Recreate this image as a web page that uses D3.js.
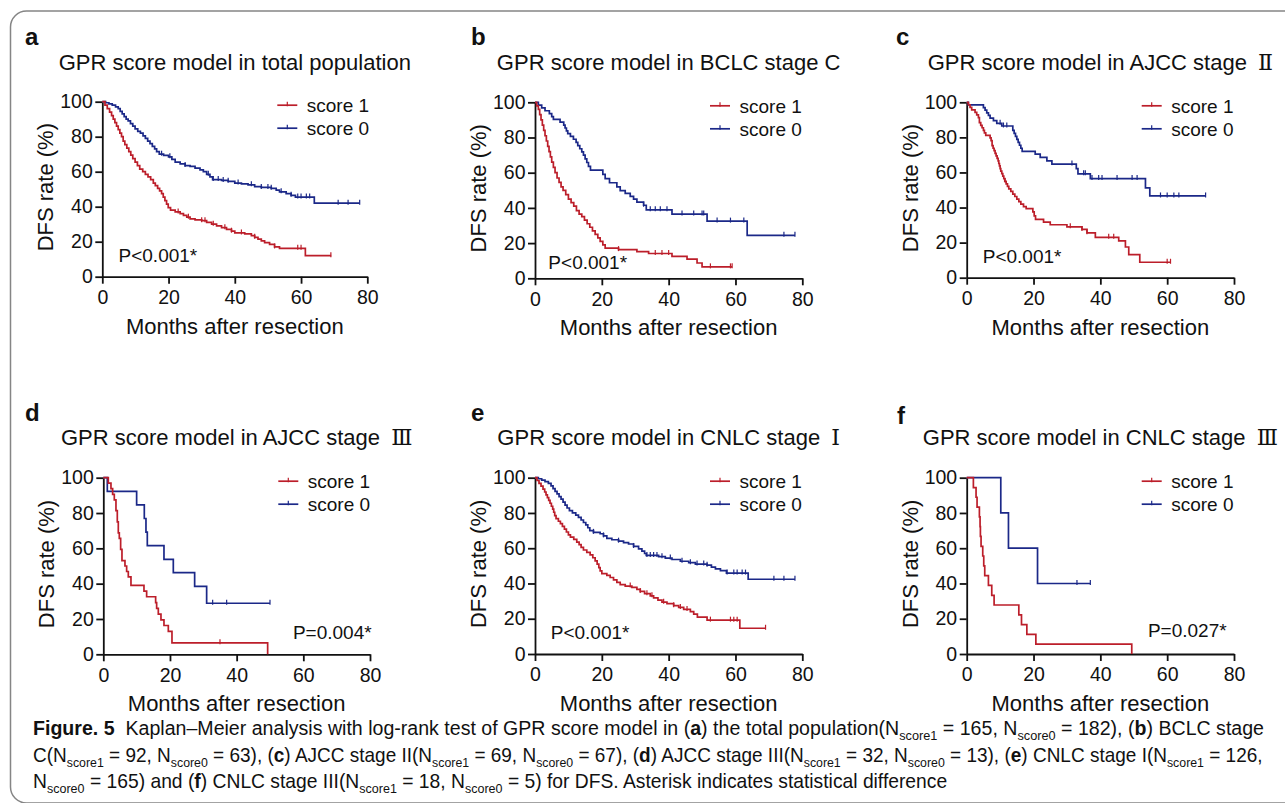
<!DOCTYPE html>
<html>
<head>
<meta charset="utf-8">
<script src="https://cdn.jsdelivr.net/npm/d3@7"></script>
<style>
  body { margin: 0; background: #fff; }
  svg text { font-family: "Liberation Sans", Arial, sans-serif; fill: #111; }
</style>
</head>
<body>
<svg id="chart" width="1285" height="803"></svg>
<script>
// tick labels
var monthTicks = [0, 20, 40, 60, 80];
var rateTicks = [0, 20, 40, 60, 80, 100];

var panelLetters = ['a', 'b', 'c', 'd', 'e', 'f'];
var panelTitles = [
  'GPR score model in total population',
  'GPR score model in BCLC stage C',
  'GPR score model in AJCC stage \u2161',
  'GPR score model in AJCC stage \u2162',
  'GPR score model in CNLC stage \u2160',
  'GPR score model in CNLC stage \u2162'
];
var pValues = ['P<0.001*', 'P<0.001*', 'P<0.001*', 'P=0.004*', 'P<0.001*', 'P=0.027*'];
var seriesNames = ['score 1', 'score 0'];

// curves: [month, DFS %] at each drop, end of follow-up, censored months

// (a) total population
var aScore1 = [[0,100],[0.8,98],[1.5,96],[2.2,94],[2.8,92],[3.3,90],[3.8,88],[4.3,86],[4.8,84],[5.3,82],[5.8,80],
  [6.3,77.5],[6.8,75.5],[7.4,73.5],[8,71.5],[8.6,69.5],[9.2,67.5],[9.9,65.5],[10.6,63.5],[11.3,61.5],[12.2,60],
  [13,58.5],[13.8,57],[14.6,55.5],[15.4,53.5],[16,52],[16.7,50.5],[17.3,49],[17.9,47.5],[18.4,45.5],[18.9,43.5],
  [19.4,41.5],[19.9,39.5],[20.6,38],[22,37],[23.5,36],[24.5,35],[25.5,34],[26.5,33],[28,32.5],[30,32],[31.5,31],
  [33,30],[34.5,29],[36,28],[37.5,27],[39,26],[40,25],[43,24.5],[45,23.5],[46,22.5],[47,21.5],[48,20.5],[49,19.5],
  [50.5,18.5],[52,17],[53.5,16.2],[61.3,12]];
var aScore1End = 69.1;
var aScore1Cens = [22.9, 26, 30, 31, 33.5, 37, 39, 42, 46, 52, 59, 60, 69];
var aScore0 = [[0,100],[1,99.4],[2,98.8],[3,98],[4,97],[4.8,96],[5.4,94.5],[6,93],[6.6,91.5],[7.2,90],[7.8,89],
  [8.5,87.5],[9.2,86],[9.9,84.5],[10.7,83],[11.5,82],[12.3,80.5],[13,79],[13.7,77.5],[14.4,76],[15.1,74.5],
  [15.8,73],[16.4,71.5],[17.2,70],[18.5,69.3],[20,68.5],[21,67],[22,65.5],[23.5,64.5],[25,63.5],[26.5,63],
  [28,62],[29.5,61],[30.5,60],[31.5,58.5],[32.5,57],[33.3,55.5],[36,55],[38,54.5],[40,53.5],[42,53],[44,52.5],
  [46,51.5],[48,51],[51,50.5],[52.5,49.5],[53.5,48.5],[55.5,47.5],[57,46.5],[58.3,45.5],[64,42]];
var aScore0End = 77.7;
var aScore0Cens = [17.9, 20.4, 25, 32, 33.5, 35, 36.5, 38, 41, 45, 48, 50, 51, 54, 57, 59, 60, 61.6, 62.6, 71.2, 74.2, 77.7];

// (b) BCLC stage C
var bScore1 = [[0,100],[0.5,98],[1,96],[1.4,93],[1.8,90],[2.2,87],[2.6,84],[3,81],[3.4,78],[3.8,75],[4.2,72],
  [4.6,69],[5,66],[5.5,63],[6,60],[6.6,57],[7.2,54.5],[7.8,52],[8.4,50],[9.2,47.5],[10,45],[10.8,43],[11.6,41],
  [12.4,38.5],[13.2,36.5],[14,35],[14.8,33],[15.6,31],[16.4,29],[17.2,27],[18,25],[18.8,23],[19.5,21],[20.3,19],
  [21,17.2],[25,16.3],[30.5,15.2],[34,14.1],[41,12.5],[45.5,10.9],[48.5,8.7],[50,6.5]];
var bScore1End = 59;
var bScore1Cens = [25, 36, 38, 40, 52.5, 58.5, 59];
var bScore0 = [[0,100],[1,98.4],[2,96.8],[3,95.2],[4.3,93.6],[5,91.9],[5.5,90.3],[7.5,88.7],[8.6,87],[9,85.4],
  [9.4,83.8],[9.8,82.2],[10.6,80.6],[11.5,79],[12.3,77.2],[12.8,75.4],[13.4,73.6],[14,71.8],[14.5,70],[15,67.8],
  [15.5,65.8],[16,63.6],[16.6,61.5],[20.3,59],[21,56.6],[22.3,54.3],[24.5,52],[25.5,49.8],[27,48.2],[28.5,46.6],
  [29.5,45],[30.5,43.3],[32.5,41.5],[33.3,38.9],[41,36.5],[51.5,32.5],[63.5,24.4]];
var bScore0End = 77.8;
var bScore0Cens = [32.5, 34.5, 36, 37.5, 39.5, 44, 47.5, 50, 50.5, 54.5, 58.5, 62.5, 74.5, 77.8];

// (c) AJCC stage II
var cScore1 = [[0,100],[0.5,98.6],[1,97.1],[1.5,95.7],[2.5,94.2],[3,92.8],[3.5,91.3],[3.8,88.4],[4.2,86.9],
  [4.6,85.5],[5,84],[5.3,82.6],[5.7,81.1],[7,79.7],[7.3,78.2],[7.6,75.3],[7.9,73.8],[8.2,72.4],[8.5,70.9],
  [8.8,69.5],[9.1,68],[9.4,66.6],[9.6,65.1],[9.8,63.7],[10,62.2],[10.2,60.8],[10.5,59.3],[10.8,57.9],[11.1,56.4],
  [11.4,55],[11.8,53.5],[12.2,52.1],[12.6,50.6],[13.2,49.2],[13.8,47.7],[14.4,46.3],[15,44.8],[15.6,43.4],
  [16.2,41.9],[17,40.5],[17.8,39.4],[19.8,37.5],[20.2,35.3],[20.6,33.2],[23,31.7],[25,30.2],[30,29],[34.5,27.5],
  [36,25.6],[38.5,23],[45.5,21],[47.5,17.5],[48.5,13.2],[51.8,8.8]];
var cScore1End = 61;
var cScore1Cens = [11.5, 31, 34.5, 36, 42.5, 44, 60, 61];
var cScore0 = [[0,100],[0.5,98.5],[5,97],[5.5,95.5],[6,94],[6.5,92.5],[7,91],[8,89.5],[9,88],[10.5,86.5],
  [13.8,84],[14.2,82.3],[14.6,80.6],[15,78.9],[15.4,77.2],[15.8,75.5],[16.2,73.8],[16.6,72],[20.5,70.5],
  [22,68.6],[24,66.6],[25.5,64.8],[32.8,62.2],[33.3,59.2],[37,56.5],[53.5,51.2],[54.8,46.6]];
var cScore0End = 71.5;
var cScore0Cens = [10, 11, 12, 31.5, 35, 35.5, 37.5, 39.5, 40.5, 45, 49.5, 51, 58, 60, 62, 63.5, 71.5];

// (d) AJCC stage III
var dScore1 = [[0,100],[1.5,96.9],[2.3,93.8],[2.8,90.6],[3.3,87.5],[3.8,81.3],[4.2,75],[4.5,68.8],[4.8,65.6],
  [5.2,59.4],[5.6,53.1],[6.5,50],[7,46.9],[7.5,43.8],[8.3,39],[12.2,35.8],[13,32.6],[15.7,29.3],[16,26],
  [16.5,22.8],[17.3,19.5],[18.2,16.3],[19.5,13],[20.6,6.5],[49.3,0]];
var dScore1End = 49.3;
var dScore1Cens = [35];
var dScore0 = [[0,100],[1.2,92.3],[10,84.6],[12.3,76.9],[12.8,69.2],[13.2,61.5],[18.2,53.8],[21,46.2],
  [27.4,38.5],[31,28.9]];
var dScore0End = 50;
var dScore0Cens = [32.8, 37, 50];

// (e) CNLC stage I
var eScore1 = [[0,100],[0.6,98.4],[1.2,96.8],[1.8,95.2],[2.4,93.5],[2.9,91.9],[3.3,90.3],[3.7,88.7],[4.1,87.1],
  [4.5,85.5],[4.9,83.8],[5.3,82.2],[5.6,80.4],[5.9,78.5],[6.3,76.8],[7,75.3],[7.6,74],[8.2,72.4],[8.8,70.8],
  [9.4,69.2],[10,67.6],[10.6,66.3],[11.6,65],[12.5,63.5],[13.2,62],[13.8,60.5],[14.5,59],[15.5,57.6],[16.5,56.2],
  [17.3,54.6],[18,52.8],[18.6,51],[19.1,49],[19.5,47.2],[20,45.6],[21.5,44.6],[22.5,43.4],[23.5,42],[24.5,40.6],
  [25.5,39.4],[27,38.5],[29,37.8],[30.5,36.6],[31.5,35.5],[32.8,34.2],[34.5,33],[35.5,31.8],[36.8,30.6],[38,29.4],
  [39.5,28.6],[41.5,27.4],[43,26.4],[44.5,25.3],[46.5,24],[47.5,22.6],[48.6,20.9],[51.5,19.2],[61.3,14.6]];
var eScore1End = 69;
var eScore1Cens = [28.5, 31.5, 33.5, 35, 38.5, 41.5, 43.5, 45.5, 52.5, 58.5, 59.5, 60.5, 69];
var eScore0 = [[0,100],[1,99.4],[2,98.6],[3,97.8],[4,96.8],[4.8,95.4],[5.4,93.8],[6,92.3],[6.6,90.8],[7.2,89.3],
  [7.8,87.8],[8.4,86.2],[9,84.5],[9.6,82.8],[10.3,81.3],[11.2,80],[12.2,78.8],[13,77.5],[13.8,76],[14.5,74.6],
  [15.2,73.2],[15.8,71.6],[16.4,70],[17.5,69],[19.5,68.2],[20.5,67],[21.5,65.6],[23,64.8],[25,64],[26.5,63.2],
  [28,62.4],[29.5,61],[31,59.6],[32,58.3],[32.8,57],[33.3,55.9],[37,55.2],[39,54.4],[41,53.6],[43.5,52.6],
  [46,51.8],[48,51],[51.5,50.4],[52.8,49.3],[54,48.3],[55.5,47.3],[57.3,45.9],[63.8,42.4]];
var eScore0End = 77.8;
var eScore0Cens = [17.5, 20.5, 25, 29.5, 33.5, 34.5, 35.5, 36.5, 38, 40.5, 44, 46.5, 48.5, 50.5, 51.5, 57.5,
  59.5, 60.5, 62, 63, 71.5, 74.5, 77.8];

// (f) CNLC stage III
var fScore1 = [[0,100],[2,94.4],[2.8,88.9],[3.1,83.3],[3.8,77.8],[4,72.2],[4.1,66.7],[4.3,61.1],[4.8,55.6],
  [5.1,50],[5.4,44.4],[6.5,38.9],[7.5,33.3],[8.2,27.8],[15.6,22.2],[16.4,16.7],[18,11.1],[20.7,5.6],[49.4,0]];
var fScore1End = 49.4;
var fScore1Cens = [];
var fScore0 = [[0,100],[10.2,80],[12.5,60],[21.2,40]];
var fScore0End = 37;
var fScore0Cens = [33, 37];

var curves = [
  [[aScore1, aScore1End, aScore1Cens], [aScore0, aScore0End, aScore0Cens]],
  [[bScore1, bScore1End, bScore1Cens], [bScore0, bScore0End, bScore0Cens]],
  [[cScore1, cScore1End, cScore1Cens], [cScore0, cScore0End, cScore0Cens]],
  [[dScore1, dScore1End, dScore1Cens], [dScore0, dScore0End, dScore0Cens]],
  [[eScore1, eScore1End, eScore1Cens], [eScore0, eScore0End, eScore0Cens]],
  [[fScore1, fScore1End, fScore1Cens], [fScore0, fScore0End, fScore0Cens]]
];

// where each panel sits on the page
var frames = [
  { x0: 102.3, x1: 367.3, yt: 101.7, yb: 276.7, lab: [25, 45],   tb: 70,  p: [4.9, 8.6, 'start'] },
  { x0: 535,   x1: 802.3, yt: 102.3, yb: 278.3, lab: [471, 45],  tb: 70,  p: [4, 5.5, 'start'] },
  { x0: 966.7, x1: 1234,  yt: 102.3, yb: 277.7, lab: [896, 45],  tb: 70,  p: [4.8, 8.2, 'start'] },
  { x0: 103.3, x1: 370,   yt: 477.7, yb: 654.3, lab: [25, 421],  tb: 445, p: [80.5, 8.5, 'end'] },
  { x0: 535,   x1: 802.3, yt: 477.7, yb: 654,   lab: [471, 421], tb: 445, p: [4.7, 8.3, 'start'] },
  { x0: 966.7, x1: 1234,  yt: 477.7, yb: 654,   lab: [897, 424], tb: 445, p: [77.8, 9.4, 'end'] }
];

var colors = ['#bc1e2a', '#1b2888'];
var font = '"Liberation Sans", Arial, sans-serif';

var svg = d3.select('#chart');

// rounded frame around the figure
svg.append('rect')
  .attr('x', 10.5).attr('y', 11).attr('width', 1300).attr('height', 792).attr('rx', 16)
  .attr('fill', 'none').attr('stroke', '#858585').attr('stroke-width', 1.5);

var byTime = d3.bisector(function(d) { return d[0]; }).right;
function survAt(steps, t) {
  var i = byTime(steps, t) - 1;
  return steps[Math.max(0, i)][1];
}

// roman numeral at the end of a title gets a serif face
function titleText(sel, str) {
  var m = str.match(/^(.*?)([\u2160-\u217f])$/);
  if (!m) { sel.text(str); return; }
  sel.append('tspan').text(m[1]);
  sel.append('tspan')
    .attr('dx', 5)
    .attr('font-family', '"DejaVu Serif", "Noto Sans CJK SC", serif')
    .text(m[2]);
}

frames.forEach(function(f, i) {
  var x = d3.scaleLinear().domain([0, 80]).range([f.x0, f.x1]);
  var y = d3.scaleLinear().domain([0, 100]).range([f.yb, f.yt]);
  var g = svg.append('g');

  g.append('text')
    .attr('x', f.lab[0]).attr('y', f.lab[1])
    .attr('font-size', 24).attr('font-weight', 'bold')
    .text(panelLetters[i]);

  g.append('text')
    .attr('x', (f.x0 + f.x1) / 2).attr('y', f.tb)
    .attr('text-anchor', 'middle').attr('font-size', 22)
    .call(titleText, panelTitles[i]);

  // axes
  g.append('g')
    .attr('transform', 'translate(0,' + f.yb + ')')
    .call(d3.axisBottom(x).tickValues(monthTicks).tickSize(7).tickPadding(6.5).tickSizeOuter(0));
  g.append('g')
    .attr('transform', 'translate(' + f.x0 + ',0)')
    .call(d3.axisLeft(y).tickValues(rateTicks).tickSize(7).tickPadding(2.5).tickSizeOuter(0));
  g.selectAll('.domain, .tick line').attr('stroke', '#111').attr('stroke-width', 1.8);
  g.selectAll('.tick text').attr('font-size', 19.5).attr('font-family', font).attr('fill', '#111');

  g.append('text')
    .attr('x', (f.x0 + f.x1) / 2).attr('y', f.yb + 57)
    .attr('text-anchor', 'middle').attr('font-size', 22)
    .text('Months after resection');

  g.append('text')
    .attr('transform', 'translate(' + (f.x0 - 49) + ',' + ((f.yt + f.yb) / 2 - 2) + ') rotate(-90)')
    .attr('text-anchor', 'middle').attr('font-size', 22)
    .text('DFS rate (%)');

  // survival curves, score 0 first so score 1 sits on top
  var line = d3.line().x(function(d) { return x(d[0]); }).y(function(d) { return y(d[1]); })
    .curve(d3.curveStepAfter);
  [1, 0].forEach(function(k) {
    var c = curves[i][k];
    var steps = c[0];
    var pts = steps.concat([[c[1], steps[steps.length - 1][1]]]);
    g.append('path')
      .attr('d', line(pts))
      .attr('fill', 'none').attr('stroke', colors[k]).attr('stroke-width', 1.7);
    g.selectAll(null)
      .data(c[2])
      .enter()
      .append('line')
        .attr('x1', function(t) { return x(t); })
        .attr('x2', function(t) { return x(t); })
        .attr('y1', function(t) { return y(survAt(steps, t)) - 3.5; })
        .attr('y2', function(t) { return y(survAt(steps, t)) + 1.5; })
        .attr('stroke', colors[k]).attr('stroke-width', 1.2);
  });

  // legend
  seriesNames.forEach(function(name, k) {
    var ly = f.yt + 3.5 + k * 23;
    g.append('line')
      .attr('x1', f.x0 + 175).attr('x2', f.x0 + 195).attr('y1', ly).attr('y2', ly)
      .attr('stroke', colors[k]).attr('stroke-width', 1.7);
    g.append('line')
      .attr('x1', f.x0 + 185).attr('x2', f.x0 + 185).attr('y1', ly - 3.5).attr('y2', ly + 1)
      .attr('stroke', colors[k]).attr('stroke-width', 1.2);
    g.append('text')
      .attr('x', f.x0 + 204.5).attr('y', ly + 7)
      .attr('font-size', 19)
      .text(name);
  });

  g.append('text')
    .attr('x', x(f.p[0])).attr('y', y(f.p[1]))
    .attr('text-anchor', f.p[2]).attr('font-size', 19)
    .text(pValues[i]);
});

// caption: [text, style] with b = bold, s = subscript
var captionLines = [
  [['Figure. 5', 'b'], ['  Kaplan\u2013Meier analysis with log-rank test of GPR score model in ('], ['a', 'b'],
   [') the total population(N'], ['score1', 's'], [' = 165, N'], ['score0', 's'], [' = 182), ('], ['b', 'b'],
   [') BCLC stage']],
  [['C(N'], ['score1', 's'], [' = 92, N'], ['score0', 's'], [' = 63), ('], ['c', 'b'], [') AJCC stage II(N'],
   ['score1', 's'], [' = 69, N'], ['score0', 's'], [' = 67), ('], ['d', 'b'], [') AJCC stage III(N'],
   ['score1', 's'], [' = 32, N'], ['score0', 's'], [' = 13), ('], ['e', 'b'], [') CNLC stage I(N'],
   ['score1', 's'], [' = 126,']],
  [['N'], ['score0', 's'], [' = 165) and ('], ['f', 'b'], [') CNLC stage III(N'], ['score1', 's'],
   [' = 18, N'], ['score0', 's'], [' = 5) for DFS. Asterisk indicates statistical difference']]
];
var captionBase = [735, 761.5, 788];
var captionLeft = 33;
var captionRight = [1265, 1263, null];

var capTexts = captionLines.map(function(parts) {
  var t = svg.append('text')
    .attr('font-family', '"Liberation Sans Narrow", "Open Sans", sans-serif')
    .attr('font-size', 20).style('white-space', 'pre').attr('fill', '#231f20');
  var shifted = false;
  parts.forEach(function(p) {
    var s = t.append('tspan').text(p[0]);
    if (p[1] === 'b') s.attr('font-weight', 'bold');
    if (p[1] === 's') {
      s.attr('font-size', 13).attr('dy', 5);
      shifted = true;
    } else if (shifted) {
      s.attr('dy', -5);
      shifted = false;
    }
  });
  return t;
});
// squeeze each full line to its measured width, last line uses the mean factor
var ks = capTexts.map(function(t, li) {
  return captionRight[li] ? (captionRight[li] - captionLeft) / t.node().getComputedTextLength() : null;
});
ks[2] = (ks[0] + ks[1]) / 2;
capTexts.forEach(function(t, li) {
  t.attr('transform', 'translate(' + captionLeft + ',' + captionBase[li] + ') scale(' + ks[li] + ',1)');
});
</script>
</body>
</html>
